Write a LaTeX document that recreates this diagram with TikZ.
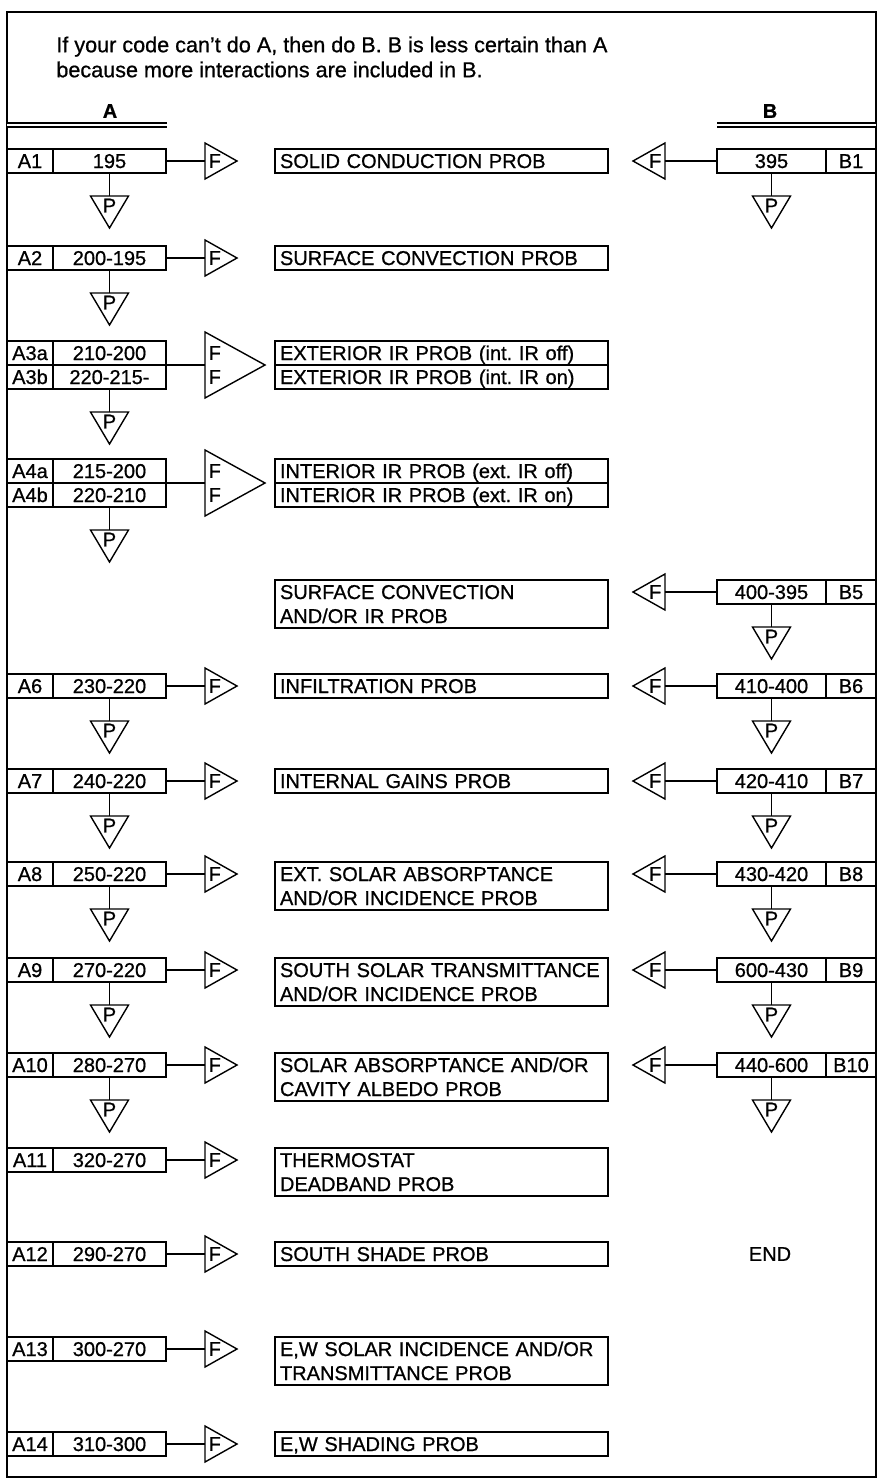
\documentclass[tikz,border=0pt]{standalone}
\usepackage{fontspec}
\setmainfont{Liberation Sans}[FakeBold=0.8]
\usetikzlibrary{shapes.geometric, positioning}
\newcommand\rowstrut{\rule[-2.5pt]{0pt}{12pt}}
\frenchspacing
\hyphenpenalty=10000

\begin{document}
\begin{tikzpicture}[x=0.5pt, y=-0.5pt, line width=0.7pt, font=\fontsize{10}{12}\selectfont]
    \tikzstyle{cell} = [rectangle, draw, inner sep=0pt, outer sep=0pt, minimum height=12pt,
                        text height=9.5pt, text depth=2.5pt]
    \tikzstyle{aid}  = [cell, minimum width=23pt]
    \tikzstyle{aval} = [cell, minimum width=56.5pt]
    \tikzstyle{bid}  = [cell, minimum width=25pt]
    \tikzstyle{bval} = [cell, minimum width=54.5pt]
    \tikzstyle{prob} = [rectangle, draw, anchor=north west, outer sep=0pt, inner ysep=0pt, inner xsep=2.5pt,
                        text width=161.5pt, align=left,
                        execute at begin node=\rowstrut, execute at end node=\rowstrut]
    \tikzstyle{tri}  = [isosceles triangle, isosceles triangle stretches, draw, inner sep=0pt, outer sep=0pt]
    \tikzstyle{fwd}  = [tri, minimum width=18pt, minimum height=16pt,
                        label={[anchor=west, inner sep=1.5pt]west:F}]
    \tikzstyle{fwdbig} = [tri, minimum width=33pt, minimum height=30pt,
                        label={[anchor=west, inner sep=1.5pt, yshift=6pt]west:F},
                        label={[anchor=west, inner sep=1.5pt, yshift=-6pt]west:F}]
    \tikzstyle{back} = [tri, shape border rotate=180, minimum width=18pt, minimum height=16pt,
                        label={[anchor=east, inner sep=1.5pt]east:F}]
    \tikzstyle{pass} = [tri, shape border rotate=270, minimum width=19pt, minimum height=16pt,
                        label={[anchor=north, inner sep=1pt]north:P}]
    \tikzstyle{rule} = [double, double distance=1.4pt, line width=0.6pt]

    \useasboundingbox (0,0) rectangle (883,1479);
    \draw[line width=1pt] (7,12) rectangle (876,1477);

    \node (note) [anchor=west, align=left, font=\fontsize{10.8}{12.5}\selectfont] at (49,57)
        {If your code can't do A, then do B. B is less certain than A\\because more interactions are included in B.};
    \node (headA) [font=\fontsize{10}{12}\selectfont\bfseries] at (110,111) {A};
    \node (headB) [font=\fontsize{10}{12}\selectfont\bfseries] at (770,111) {B};
    \draw[rule] (7,125) -- (167,125);
    \draw[rule] (717,125) -- (876,125);

    \node (a1)    [aid] at (30,161) {A1};
    \node (a1v)   [aval, right=0pt of a1] {195};
    \node (fa1)   [fwd, right=19.5pt of a1v] {};
    \node (pa1)   [pass, below=11.5pt of a1v] {};
    \node (prob1) [prob] at (275,149) {SOLID CONDUCTION PROB};
    \node (b1v)   [bval] at (771.5,161) {395};
    \node (b1)    [bid, right=0pt of b1v] {B1};
    \node (fb1)   [back, left=26pt of b1v] {};
    \node (pb1)   [pass, below=11.5pt of b1v] {};
    \draw (a1v) -- (fa1);
    \draw (a1v) -- (pa1);
    \draw (b1v) -- (fb1);
    \draw (b1v) -- (pb1);

    \node (a2)    [aid] at (30,258) {A2};
    \node (a2v)   [aval, right=0pt of a2] {200-195};
    \node (fa2)   [fwd, right=19.5pt of a2v] {};
    \node (pa2)   [pass, below=11.5pt of a2v] {};
    \node (prob2) [prob] at (275,246) {SURFACE CONVECTION PROB};
    \draw (a2v) -- (fa2);
    \draw (a2v) -- (pa2);

    \node (a3a)    [aid] at (30,353) {A3a};
    \node (a3av)   [aval, right=0pt of a3a] {210-200};
    \node (a3b)    [aid, below=0pt of a3a] {A3b};
    \node (a3bv)   [aval, right=0pt of a3b] {220-215-};
    \node (fa3)    [fwdbig, right=19.5pt of a3av.south east] {};
    \node (pa3)    [pass, below=11.5pt of a3bv] {};
    \node (prob3a) [prob] at (275,341) {EXTERIOR IR PROB (int. IR off)};
    \node (prob3b) [prob, below=0pt of prob3a] {EXTERIOR IR PROB (int. IR on)};
    \draw (a3av.south east) -- (fa3);
    \draw (a3bv) -- (pa3);

    \node (a4a)    [aid] at (30,471) {A4a};
    \node (a4av)   [aval, right=0pt of a4a] {215-200};
    \node (a4b)    [aid, below=0pt of a4a] {A4b};
    \node (a4bv)   [aval, right=0pt of a4b] {220-210};
    \node (fa4)    [fwdbig, right=19.5pt of a4av.south east] {};
    \node (pa4)    [pass, below=11.5pt of a4bv] {};
    \node (prob4a) [prob] at (275,459) {INTERIOR IR PROB (ext. IR off)};
    \node (prob4b) [prob, below=0pt of prob4a] {INTERIOR IR PROB (ext. IR on)};
    \draw (a4av.south east) -- (fa4);
    \draw (a4bv) -- (pa4);

    \node (prob5) [prob] at (275,580) {SURFACE CONVECTION\\AND/OR IR PROB};
    \node (b5v)   [bval] at (771.5,592) {400-395};
    \node (b5)    [bid, right=0pt of b5v] {B5};
    \node (fb5)   [back, left=26pt of b5v] {};
    \node (pb5)   [pass, below=11.5pt of b5v] {};
    \draw (b5v) -- (fb5);
    \draw (b5v) -- (pb5);

    \node (a6)    [aid] at (30,686) {A6};
    \node (a6v)   [aval, right=0pt of a6] {230-220};
    \node (fa6)   [fwd, right=19.5pt of a6v] {};
    \node (pa6)   [pass, below=11.5pt of a6v] {};
    \node (prob6) [prob] at (275,674) {INFILTRATION PROB};
    \node (b6v)   [bval] at (771.5,686) {410-400};
    \node (b6)    [bid, right=0pt of b6v] {B6};
    \node (fb6)   [back, left=26pt of b6v] {};
    \node (pb6)   [pass, below=11.5pt of b6v] {};
    \draw (a6v) -- (fa6);
    \draw (a6v) -- (pa6);
    \draw (b6v) -- (fb6);
    \draw (b6v) -- (pb6);

    \node (a7)    [aid] at (30,781) {A7};
    \node (a7v)   [aval, right=0pt of a7] {240-220};
    \node (fa7)   [fwd, right=19.5pt of a7v] {};
    \node (pa7)   [pass, below=11.5pt of a7v] {};
    \node (prob7) [prob] at (275,769) {INTERNAL GAINS PROB};
    \node (b7v)   [bval] at (771.5,781) {420-410};
    \node (b7)    [bid, right=0pt of b7v] {B7};
    \node (fb7)   [back, left=26pt of b7v] {};
    \node (pb7)   [pass, below=11.5pt of b7v] {};
    \draw (a7v) -- (fa7);
    \draw (a7v) -- (pa7);
    \draw (b7v) -- (fb7);
    \draw (b7v) -- (pb7);

    \node (a8)    [aid] at (30,874) {A8};
    \node (a8v)   [aval, right=0pt of a8] {250-220};
    \node (fa8)   [fwd, right=19.5pt of a8v] {};
    \node (pa8)   [pass, below=11.5pt of a8v] {};
    \node (prob8) [prob] at (275,862) {EXT. SOLAR ABSORPTANCE\\AND/OR INCIDENCE PROB};
    \node (b8v)   [bval] at (771.5,874) {430-420};
    \node (b8)    [bid, right=0pt of b8v] {B8};
    \node (fb8)   [back, left=26pt of b8v] {};
    \node (pb8)   [pass, below=11.5pt of b8v] {};
    \draw (a8v) -- (fa8);
    \draw (a8v) -- (pa8);
    \draw (b8v) -- (fb8);
    \draw (b8v) -- (pb8);

    \node (a9)    [aid] at (30,970) {A9};
    \node (a9v)   [aval, right=0pt of a9] {270-220};
    \node (fa9)   [fwd, right=19.5pt of a9v] {};
    \node (pa9)   [pass, below=11.5pt of a9v] {};
    \node (prob9) [prob] at (275,958) {SOUTH SOLAR TRANSMITTANCE\\AND/OR INCIDENCE PROB};
    \node (b9v)   [bval] at (771.5,970) {600-430};
    \node (b9)    [bid, right=0pt of b9v] {B9};
    \node (fb9)   [back, left=26pt of b9v] {};
    \node (pb9)   [pass, below=11.5pt of b9v] {};
    \draw (a9v) -- (fa9);
    \draw (a9v) -- (pa9);
    \draw (b9v) -- (fb9);
    \draw (b9v) -- (pb9);

    \node (a10)    [aid] at (30,1065) {A10};
    \node (a10v)   [aval, right=0pt of a10] {280-270};
    \node (fa10)   [fwd, right=19.5pt of a10v] {};
    \node (pa10)   [pass, below=11.5pt of a10v] {};
    \node (prob10) [prob] at (275,1053) {SOLAR ABSORPTANCE AND/OR\\CAVITY ALBEDO PROB};
    \node (b10v)   [bval] at (771.5,1065) {440-600};
    \node (b10)    [bid, right=0pt of b10v] {B10};
    \node (fb10)   [back, left=26pt of b10v] {};
    \node (pb10)   [pass, below=11.5pt of b10v] {};
    \draw (a10v) -- (fa10);
    \draw (a10v) -- (pa10);
    \draw (b10v) -- (fb10);
    \draw (b10v) -- (pb10);

    \node (a11)    [aid] at (30,1160) {A11};
    \node (a11v)   [aval, right=0pt of a11] {320-270};
    \node (fa11)   [fwd, right=19.5pt of a11v] {};
    \node (prob11) [prob] at (275,1148) {THERMOSTAT\\DEADBAND PROB};
    \draw (a11v) -- (fa11);

    \node (a12)    [aid] at (30,1254) {A12};
    \node (a12v)   [aval, right=0pt of a12] {290-270};
    \node (fa12)   [fwd, right=19.5pt of a12v] {};
    \node (prob12) [prob] at (275,1242) {SOUTH SHADE PROB};
    \node (end)    at (770,1254) {END};
    \draw (a12v) -- (fa12);

    \node (a13)    [aid] at (30,1349) {A13};
    \node (a13v)   [aval, right=0pt of a13] {300-270};
    \node (fa13)   [fwd, right=19.5pt of a13v] {};
    \node (prob13) [prob] at (275,1337) {E,W SOLAR INCIDENCE AND/OR\\TRANSMITTANCE PROB};
    \draw (a13v) -- (fa13);

    \node (a14)    [aid] at (30,1444) {A14};
    \node (a14v)   [aval, right=0pt of a14] {310-300};
    \node (fa14)   [fwd, right=19.5pt of a14v] {};
    \node (prob14) [prob] at (275,1432) {E,W SHADING PROB};
    \draw (a14v) -- (fa14);
\end{tikzpicture}
\end{document}
